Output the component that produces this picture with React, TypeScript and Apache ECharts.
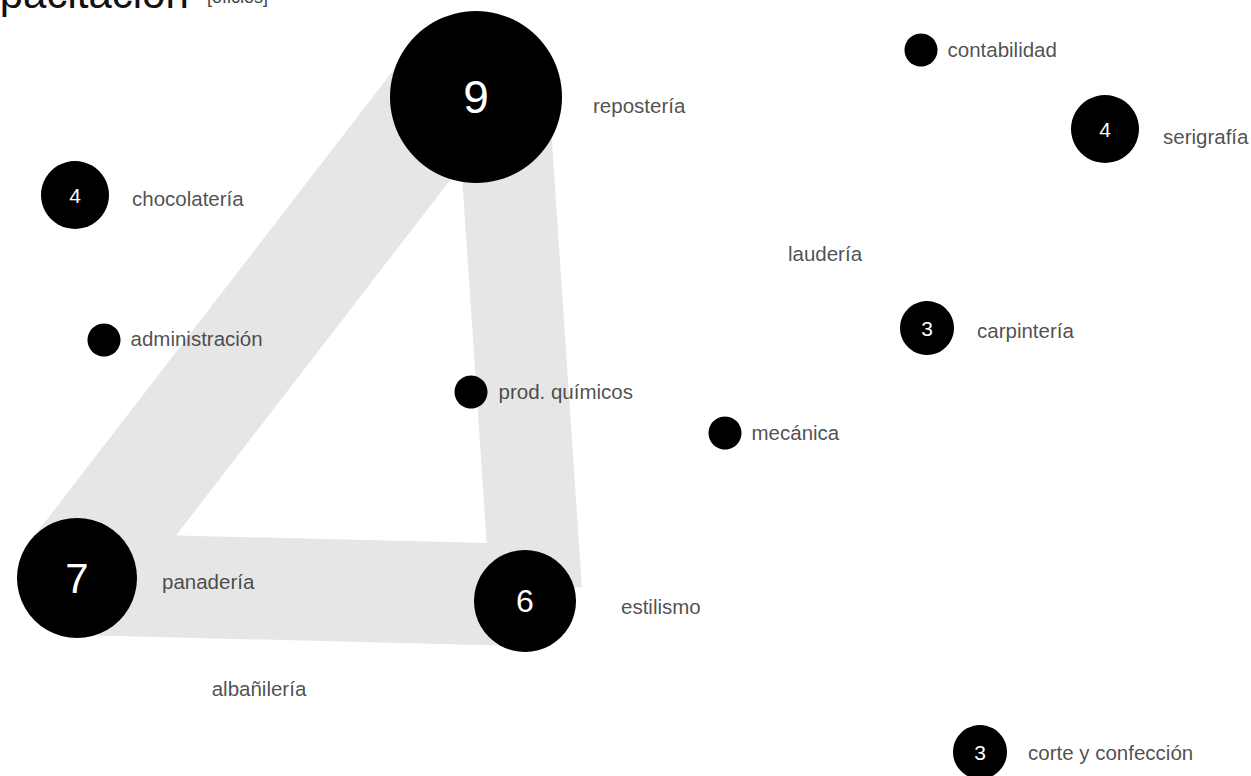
import React, { useEffect, useRef } from 'react';
import * as echarts from 'echarts';

// ---- data ----
const trades = [
  'repostería', 'chocolatería', 'administración', 'prod. químicos', 'mecánica',
  'panadería', 'estilismo', 'albañilería', 'laudería', 'contabilidad',
  'serigrafía', 'carpintería', 'corte y confección',
];
const tradeX = [476, 75, 104, 471, 725, 77, 525, 259, 825, 921, 1105, 927, 980];
const tradeY = [97, 195, 340, 392, 433, 578, 601, 688, 253, 50, 129, 328, 752];
const tradeCount = [9, 4, 1, 1, 1, 7, 6, 0, 0, 1, 4, 3, 3];

const bandNames = ['repostería – panadería', 'panadería – estilismo', 'estilismo – repostería'];
const bandStart = [[445, 95], [77, 584], [536, 590]];
const bandEnd = [[71, 580], [525, 595], [503, 100]];

const titleText = 'Capacitación';
const subtitleText = '[oficios]';

// ---- styles ----
const bandWidth = [112, 102, 92];
const diameterFor: Record<number, number> = { 0: 0, 1: 33, 2: 40, 3: 54, 4: 68, 6: 102, 7: 120, 9: 172 };
const numberSizeFor: Record<number, number> = { 3: 21, 4: 21, 6: 32, 7: 42, 9: 46 };
const labelGap: Record<string, number> = {
  'repostería': 31, 'chocolatería': 23, 'administración': 10, 'prod. químicos': 11,
  'mecánica': 10, 'panadería': 25, 'estilismo': 45, 'contabilidad': 10,
  'serigrafía': 24, 'carpintería': 23, 'corte y confección': 21,
};
const labelDy: Record<string, number> = {
  'repostería': 8, 'chocolatería': 3, 'administración': -2, 'prod. químicos': -1,
  'mecánica': -1, 'panadería': 3, 'estilismo': 5, 'contabilidad': -1,
  'serigrafía': 7, 'carpintería': 2, 'corte y confección': 0,
};
const FONT = '"Liberation Sans", Arial, Helvetica, sans-serif';

export default function App() {
  const ref = useRef<HTMLDivElement>(null);
  useEffect(() => {
    if (!ref.current) return;
    const chart = echarts.init(ref.current, null, { renderer: 'svg' });

    const circleData = trades.map((name, i) => ({
      name,
      value: [tradeX[i], tradeY[i], tradeCount[i]],
      label: { fontSize: numberSizeFor[tradeCount[i]] || 12 },
    }));

    const nameData = trades.map((name, i) => {
      const c = tradeCount[i];
      if (c === 0) {
        return { name, value: [tradeX[i], tradeY[i], c], label: { position: 'inside', align: 'center' } };
      }
      return {
        name,
        value: [tradeX[i], tradeY[i], c],
        label: {
          position: 'right',
          distance: diameterFor[c] / 2 + (labelGap[name] ?? 10),
          offset: [0, labelDy[name] ?? 0],
        },
      };
    });

    chart.setOption({
      animation: false,
      backgroundColor: '#ffffff',
      grid: { left: 0, right: 0, top: 0, bottom: 0 },
      xAxis: { type: 'value', min: 0, max: 1251, show: false },
      yAxis: { type: 'value', min: 0, max: 776, inverse: true, show: false },
      graphic: [
        {
          type: 'text', x: -54, y: -7, silent: true,
          style: { text: titleText, font: `42px ${FONT}`, fill: '#111', verticalAlign: 'middle' },
        },
        {
          type: 'text', x: 207, y: -3, silent: true,
          style: { text: subtitleText, font: `18px ${FONT}`, fill: '#444', verticalAlign: 'middle' },
        },
      ],
      series: [
        {
          type: 'lines',
          name: 'bandas',
          coordinateSystem: 'cartesian2d',
          silent: true,
          z: 1,
          data: bandNames.map((n, i) => ({
            name: n,
            coords: [bandStart[i], bandEnd[i]],
            lineStyle: { width: bandWidth[i] },
          })),
          lineStyle: { color: '#e6e6e6', opacity: 1, cap: 'butt', curveness: 0 },
        },
        {
          type: 'scatter',
          name: 'oficios',
          silent: true,
          z: 3,
          data: circleData,
          symbol: 'circle',
          symbolSize: (v: number[]) => diameterFor[v[2]] ?? 0,
          itemStyle: { color: '#000000', opacity: 1 },
          label: {
            show: true,
            position: 'inside',
            color: '#ffffff',
            fontFamily: FONT,
            formatter: (p: any) => (p.value[2] >= 3 ? String(p.value[2]) : ''),
          },
        },
        {
          type: 'scatter',
          name: 'nombres',
          silent: true,
          z: 4,
          data: nameData,
          symbolSize: 0,
          itemStyle: { color: 'transparent' },
          label: {
            show: true,
            color: '#222222',
            fontFamily: FONT,
            fontSize: 20.5,
            formatter: (p: any) => p.name,
          },
        },
      ],
    });
    return () => chart.dispose();
  }, []);
  return <div ref={ref} style={{ position: 'fixed', left: 0, top: 0, width: 1251, height: 776 }} />;
}
